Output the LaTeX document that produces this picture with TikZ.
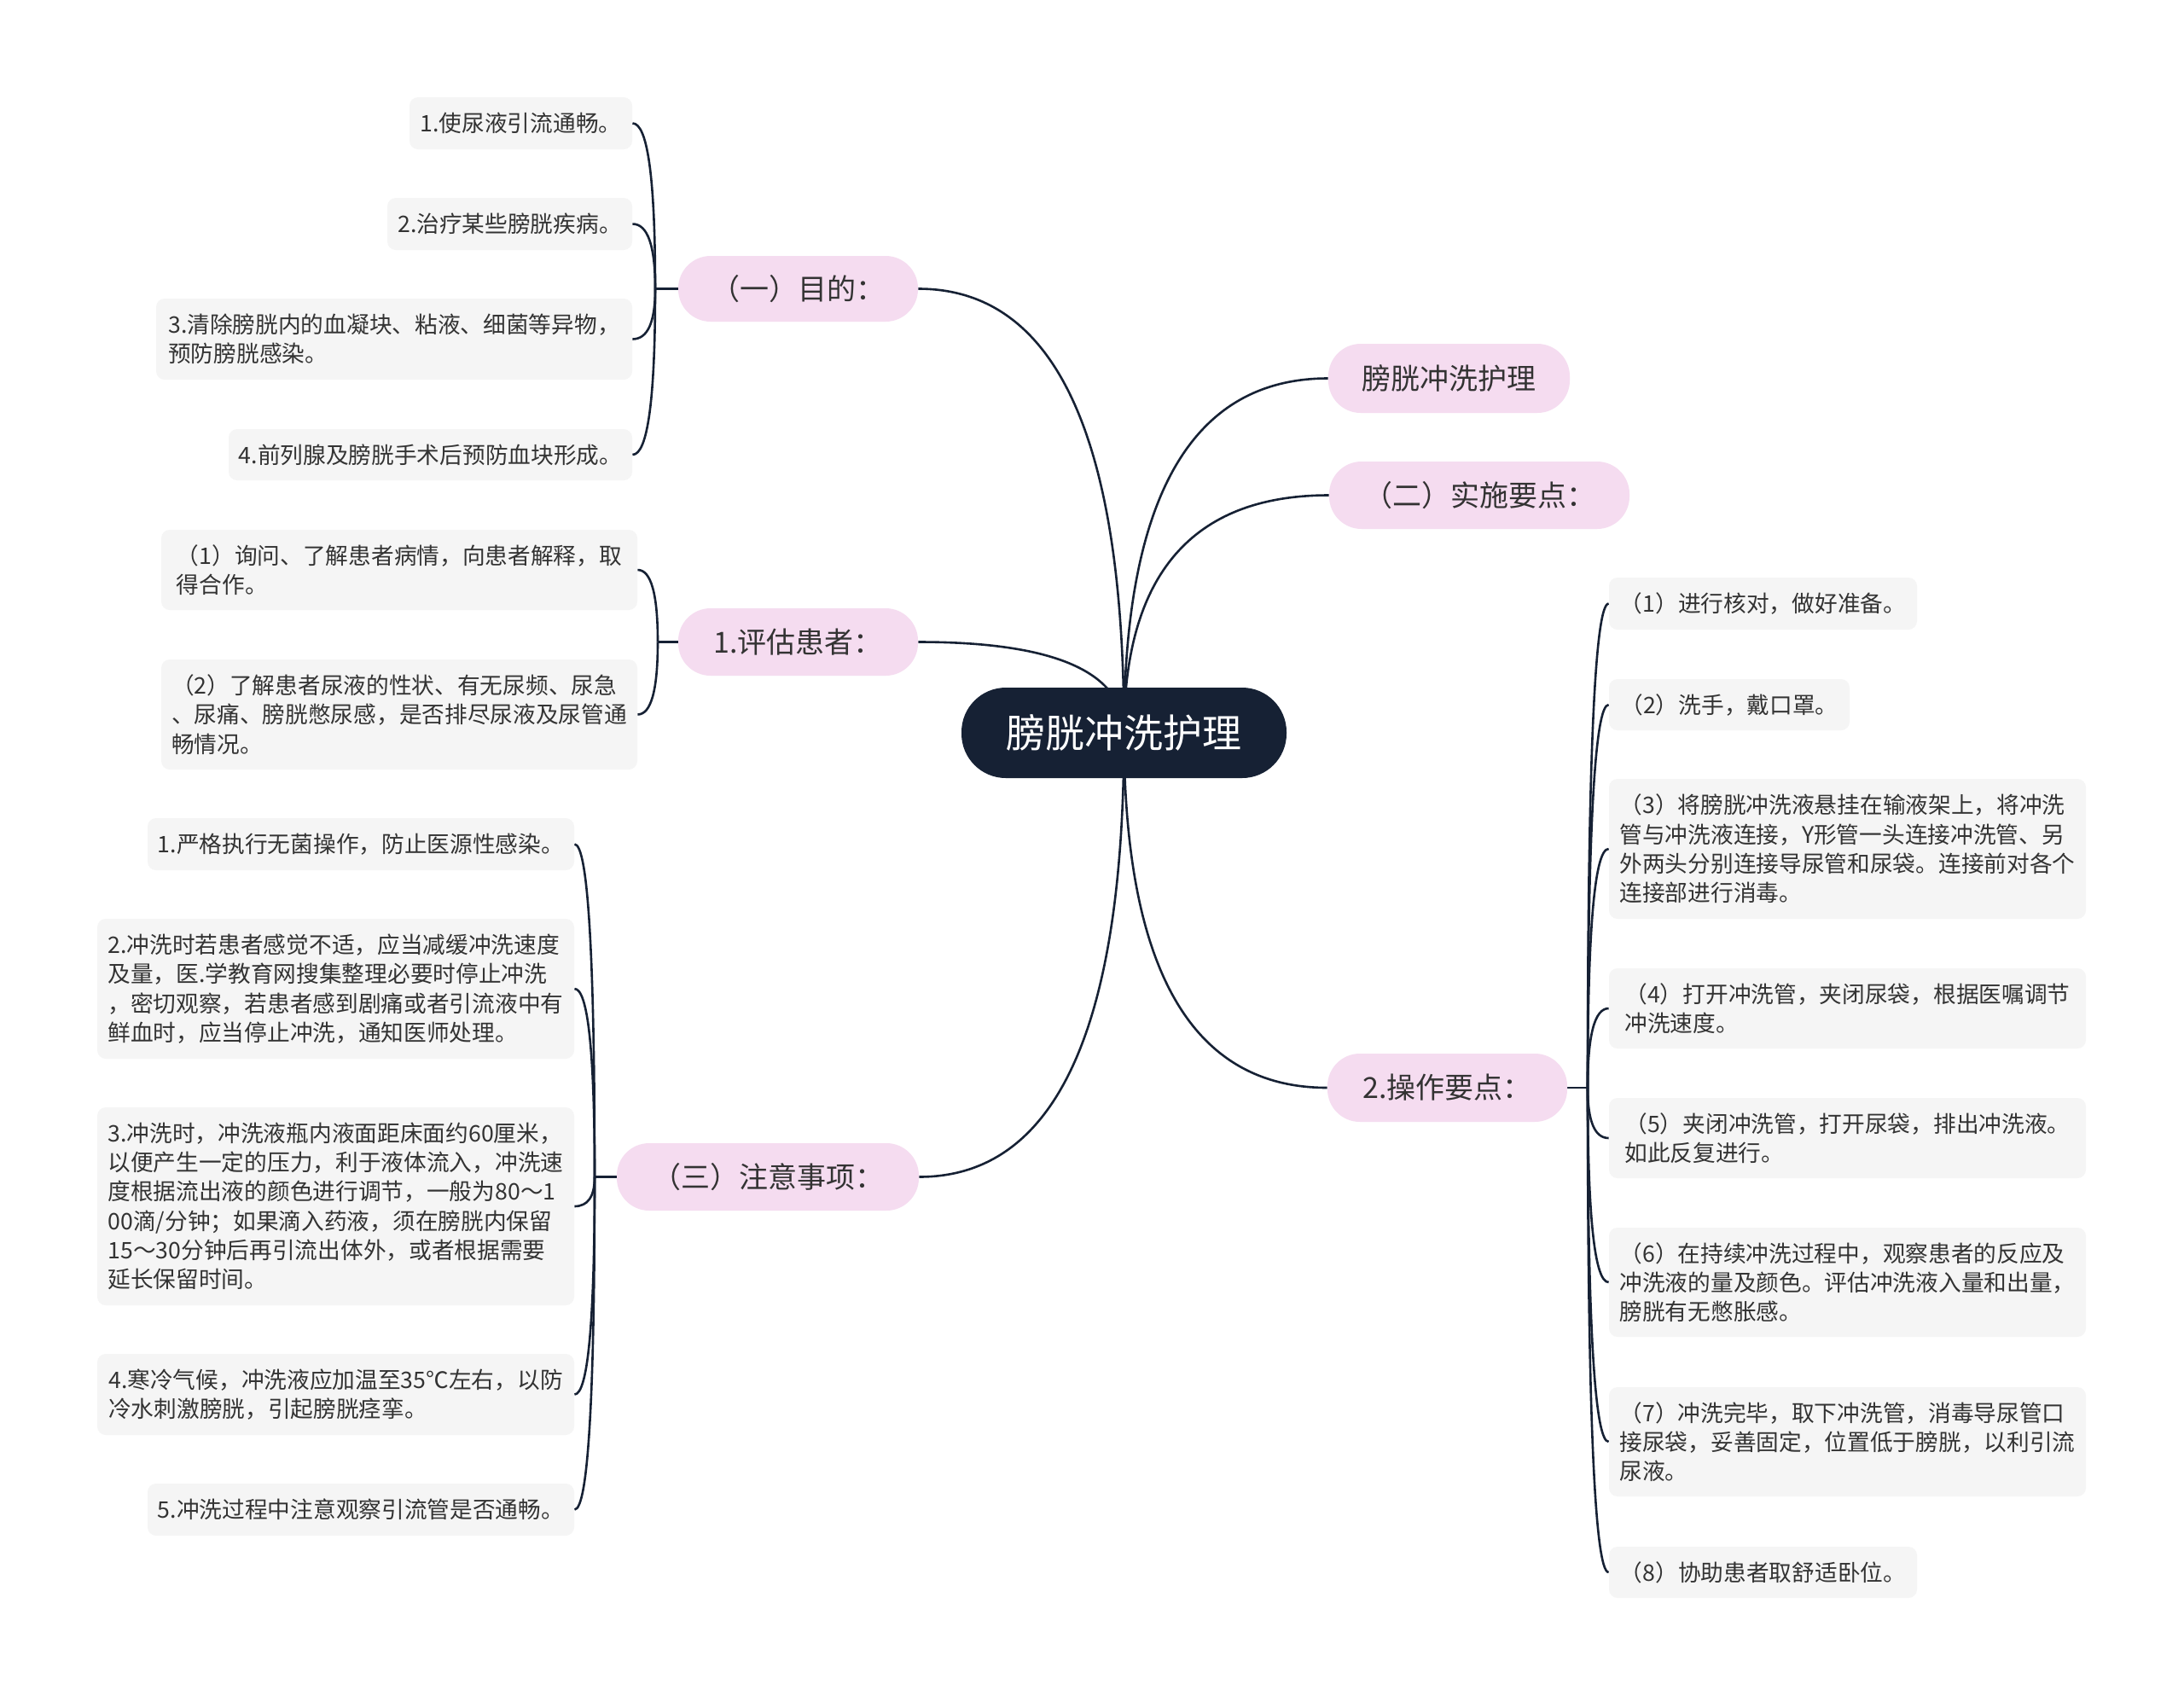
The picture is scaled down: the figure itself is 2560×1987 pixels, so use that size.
\documentclass[tikz,border=0pt]{standalone}
\usepackage{fontspec}
\setmainfont{Noto Sans CJK SC}
\usetikzlibrary{calc,backgrounds}
\definecolor{navy}{HTML}{162134}
\definecolor{pinkf}{HTML}{F5DCF0}
\definecolor{grayf}{HTML}{F5F5F5}
\definecolor{txt}{HTML}{333333}
\begin{document}
\begin{tikzpicture}[x=0.5pt,y=-0.5pt,
  rootnode/.style={fill=navy, text=white, rounded corners=26pt, inner sep=0pt, font=\fontsize{23}{28}\selectfont},
  topic/.style={fill=pinkf, text=txt, rounded corners=19pt, inner sep=0pt, font=\fontsize{17}{21}\selectfont},
  leaf/.style={fill=grayf, text=txt, rounded corners=5pt, inner sep=0pt, align=left, font=\fontsize{13.35}{17.15}\selectfont},
  conn/.style={draw=navy, line width=1.3pt},
  quad/.style={to path={let \p1=(\tikztostart), \p2=(\tikztotarget) in
     .. controls (\x1, {\y1+0.6667*(\y2-\y1)}) and ({\x2+0.6667*(\x1-\x2)}, \y2) .. (\tikztotarget)}}
]
\useasboundingbox (0,0) rectangle (2560,1987);

% root
\node[rootnode, minimum width=190.5pt, minimum height=53pt] (root) at (1317.5,859) {膀胱冲洗护理};

% topics
\node[topic, minimum width=140.5pt, minimum height=38.5pt] (p1) at (935.5,338.5) {（一）目的：};
\node[topic, minimum width=140.5pt, minimum height=39.5pt] (p2) at (935.5,752.5) {1.评估患者：};
\node[topic, minimum width=177pt, minimum height=39.5pt] (p3) at (900,1379.5) {（三）注意事项：};
\node[topic, minimum width=141.5pt, minimum height=40.5pt] (p4) at (1698.5,443.5) {膀胱冲洗护理};
\node[topic, minimum width=176pt, minimum height=39.5pt] (p5) at (1734,580.5) {（二）实施要点：};
\node[topic, minimum width=140.5pt, minimum height=40pt] (p6) at (1696.5,1275) {2.操作要点：};

% group 1
\node[leaf, minimum width=130.5pt, minimum height=30.5pt] (g1a) at (610.5,144.5) {1.使尿液引流通畅。};
\node[leaf, minimum width=143.5pt, minimum height=30.5pt] (g1b) at (597.5,262.5) {2.治疗某些膀胱疾病。};
\node[leaf, minimum width=279pt, minimum height=47.5pt] (g1c) at (462,397.5) {3.清除膀胱内的血凝块、粘液、细菌等异物，\\预防膀胱感染。};
\node[leaf, minimum width=236.5pt, minimum height=30pt] (g1d) at (504.5,533) {4.前列腺及膀胱手术后预防血块形成。};

% group 2
\node[leaf, minimum width=279pt, minimum height=47pt] (g2a) at (468,668) {（1）询问、了解患者病情，向患者解释，取\\得合作。};
\node[leaf, minimum width=279pt, minimum height=64.5pt] (g2b) at (468,837.5) {（2）了解患者尿液的性状、有无尿频、尿急\\、尿痛、膀胱憋尿感，是否排尽尿液及尿管通\\畅情况。};

% group 3
\node[leaf, minimum width=250pt, minimum height=30.5pt] (g3a) at (423,989.5) {1.严格执行无菌操作，防止医源性感染。};
\node[leaf, minimum width=279.5pt, minimum height=82pt] (g3b) at (393.5,1159) {2.冲洗时若患者感觉不适，应当减缓冲洗速度\\及量，医.学教育网搜集整理必要时停止冲洗\\，密切观察，若患者感到剧痛或者引流液中有\\鲜血时，应当停止冲洗，通知医师处理。};
\node[leaf, minimum width=279.5pt, minimum height=116pt] (g3c) at (393.5,1414) {3.冲洗时，冲洗液瓶内液面距床面约60厘米，\\以便产生一定的压力，利于液体流入，冲洗速\\度根据流出液的颜色进行调节，一般为80～1\\00滴/分钟；如果滴入药液，须在膀胱内保留\\15～30分钟后再引流出体外，或者根据需要\\延长保留时间。};
\node[leaf, minimum width=279.5pt, minimum height=47.5pt] (g3d) at (393.5,1634.5) {4.寒冷气候，冲洗液应加温至35℃左右，以防\\冷水刺激膀胱，引起膀胱痉挛。};
\node[leaf, minimum width=250pt, minimum height=30.5pt] (g3e) at (423,1769.5) {5.冲洗过程中注意观察引流管是否通畅。};

% right group
\node[leaf, minimum width=180.5pt, minimum height=30.5pt] (r1) at (2066.5,707.5) {（1）进行核对，做好准备。};
\node[leaf, minimum width=141pt, minimum height=30pt] (r2) at (2027,826) {（2）洗手，戴口罩。};
\node[leaf, minimum width=279.5pt, minimum height=82pt] (r3) at (2165.5,995) {（3）将膀胱冲洗液悬挂在输液架上，将冲洗\\管与冲洗液连接，Y形管一头连接冲洗管、另\\外两头分别连接导尿管和尿袋。连接前对各个\\连接部进行消毒。};
\node[leaf, minimum width=279.5pt, minimum height=47pt] (r4) at (2165.5,1182) {（4）打开冲洗管，夹闭尿袋，根据医嘱调节\\冲洗速度。};
\node[leaf, minimum width=279.5pt, minimum height=47pt] (r5) at (2165.5,1334) {（5）夹闭冲洗管，打开尿袋，排出冲洗液。\\如此反复进行。};
\node[leaf, minimum width=279.5pt, minimum height=64pt] (r6) at (2165.5,1503) {（6）在持续冲洗过程中，观察患者的反应及\\冲洗液的量及颜色。评估冲洗液入量和出量，\\膀胱有无憋胀感。};
\node[leaf, minimum width=279.5pt, minimum height=64pt] (r7) at (2165.5,1690) {（7）冲洗完毕，取下冲洗管，消毒导尿管口\\接尿袋，妥善固定，位置低于膀胱，以利引流\\尿液。};
\node[leaf, minimum width=180.5pt, minimum height=30pt] (r8) at (2066.5,1843) {（8）协助患者取舒适卧位。};

\begin{scope}[on background layer]
\fill[white] (0,0) rectangle (2560,1987);
% main branches
\draw[conn] (root.center) to[quad] (p1.east);
\draw[conn] (root.center) to[quad] (p2.east);
\draw[conn] (root.center) to[quad] (p3.east);
\draw[conn] (root.center) to[quad] (p4.west);
\draw[conn] (root.center) to[quad] (p5.west);
\draw[conn] (root.center) to[quad] (p6.west);
% trunks
\coordinate (t1) at (768,338.5);
\coordinate (t2) at (771,752.5);
\coordinate (t3) at (697,1379.5);
\coordinate (t4) at (1861,1275);
\draw[conn] (p1.west) -- (t1);
\draw[conn] (p2.west) -- (t2);
\draw[conn] (p3.west) -- (t3);
\draw[conn] (p6.east) -- (t4);
\foreach \k in {g1a,g1b,g1c,g1d} \draw[conn] (t1) to[quad] (\k.east);
\foreach \k in {g2a,g2b} \draw[conn] (t2) to[quad] (\k.east);
\foreach \k in {g3a,g3b,g3c,g3d,g3e} \draw[conn] (t3) to[quad] (\k.east);
\foreach \k in {r1,r2,r3,r4,r5,r6,r7,r8} \draw[conn] (t4) to[quad] (\k.west);
\end{scope}
\end{tikzpicture}
\end{document}
